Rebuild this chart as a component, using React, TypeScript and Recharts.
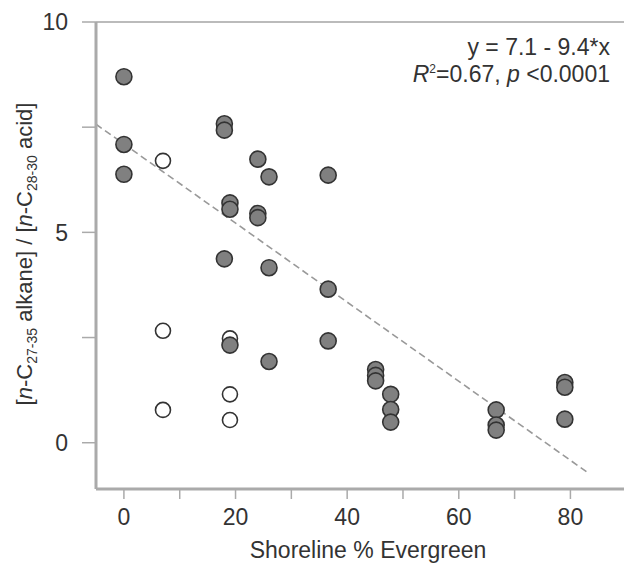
import React from 'react';
import { ScatterChart, Scatter, XAxis, YAxis, ReferenceLine, Customized } from 'recharts';

// shoreline % evergreen (x) and alkane/acid ratio (y)
const evergreenFilled = [0, 0, 0, 18, 18, 18, 19, 19, 19, 24, 24, 24, 26, 26, 26, 36.6, 36.6, 36.6, 45.1, 45.1, 45.1, 47.8, 47.8, 47.8, 66.7, 66.7, 66.7, 79, 79, 79];
const ratioFilled = [8.7, 7.09, 6.38, 7.58, 7.43, 4.37, 5.7, 5.55, 2.32, 6.74, 5.45, 5.35, 6.32, 4.16, 1.93, 6.36, 3.65, 2.42, 1.74, 1.6, 1.47, 1.15, 0.79, 0.49, 0.78, 0.42, 0.3, 1.43, 1.32, 0.56];
const evergreenOpen = [7, 7, 7, 19, 19, 19];
const ratioOpen = [6.7, 2.66, 0.78, 2.48, 1.15, 0.54];

// ends of the dashed fit line
const fitX = [-5, 83];
const fitY = [7.57, -0.7];

const xTicks = [0, 10, 20, 30, 40, 50, 60, 70, 80];
const yTicks = [0, 2.5, 5, 7.5, 10];

const filledData = evergreenFilled.map((x, i) => ({ x, y: ratioFilled[i] }));
const openData = evergreenOpen.map((x, i) => ({ x, y: ratioOpen[i] }));
const fitSegment = fitX.map((x, i) => ({ x, y: fitY[i] }));

const FONT = '"Liberation Sans", Arial, sans-serif';
const AXIS = '#aaaaaa';
const TEXT = '#333333';

const FilledDot = (props: any) => (
  <circle cx={props.cx} cy={props.cy} r={8} fill="#808080" stroke="#333" strokeWidth={1.6} />
);

const OpenDot = (props: any) => (
  <circle cx={props.cx} cy={props.cy} r={7.5} fill="#fff" stroke="#333" strokeWidth={1.6} />
);

const Annotations = () => (
  <g fontFamily={FONT} fill={TEXT}>
    <text x={610} y={55} textAnchor="end" fontSize={23}>y = 7.1 - 9.4*x</text>
    <text x={610} y={82} textAnchor="end" fontSize={23}>
      <tspan fontStyle="italic">R</tspan>
      <tspan fontSize={12} dy={-9}>2</tspan>
      <tspan dy={9}>=0.67, </tspan>
      <tspan fontStyle="italic">p</tspan>
      <tspan> &lt;0.0001</tspan>
    </text>
    <text x={368} y={558} textAnchor="middle" fontSize={23}>Shoreline % Evergreen</text>
    <text x={32} y={254} textAnchor="middle" fontSize={22} transform="rotate(-90, 32, 254)">
      <tspan>[</tspan>
      <tspan fontStyle="italic">n</tspan>
      <tspan>-C</tspan>
      <tspan fontSize={14} dy={5}>27-35</tspan>
      <tspan dy={-5}> alkane] / [</tspan>
      <tspan fontStyle="italic">n</tspan>
      <tspan>-C</tspan>
      <tspan fontSize={14} dy={5}>28-30</tspan>
      <tspan dy={-5}> acid]</tspan>
    </text>
  </g>
);

export default function App() {
  return (
    <div style={{ position: 'absolute', left: 0, top: 0, width: 624, height: 569, background: '#fff' }}>
      <ScatterChart width={624} height={569} margin={{ top: 22, right: 0, bottom: 0, left: 0 }}>
        <XAxis
          type="number"
          dataKey="x"
          domain={[-5, 89.6]}
          ticks={xTicks}
          allowDataOverflow
          height={80}
          axisLine={{ stroke: AXIS, strokeWidth: 3 }}
          tickLine={{ stroke: AXIS, strokeWidth: 1.5 }}
          tickSize={10}
          tickMargin={10}
          tickFormatter={(v: number) => (v % 20 === 0 ? String(v) : '')}
          tick={{ fill: TEXT, fontSize: 23, fontFamily: FONT }}
        />
        <YAxis
          type="number"
          dataKey="y"
          domain={[-1.1, 10]}
          ticks={yTicks}
          allowDataOverflow
          width={96}
          axisLine={{ stroke: AXIS, strokeWidth: 3 }}
          tickLine={{ stroke: AXIS, strokeWidth: 1.5 }}
          tickSize={14}
          tickMargin={14}
          tickFormatter={(v: number) => (v % 5 === 0 ? String(v) : '')}
          tick={{ fill: TEXT, fontSize: 23, fontFamily: FONT }}
        />
        <ReferenceLine y={10} stroke="#bbbbbb" strokeWidth={2} />
        <ReferenceLine
          segment={fitSegment}
          stroke="#999999"
          strokeWidth={1.6}
          strokeDasharray="7 4"
          ifOverflow="visible"
        />
        <Scatter data={openData} shape={OpenDot} isAnimationActive={false} />
        <Scatter data={filledData} shape={FilledDot} isAnimationActive={false} />
        <Customized component={Annotations} />
      </ScatterChart>
    </div>
  );
}
